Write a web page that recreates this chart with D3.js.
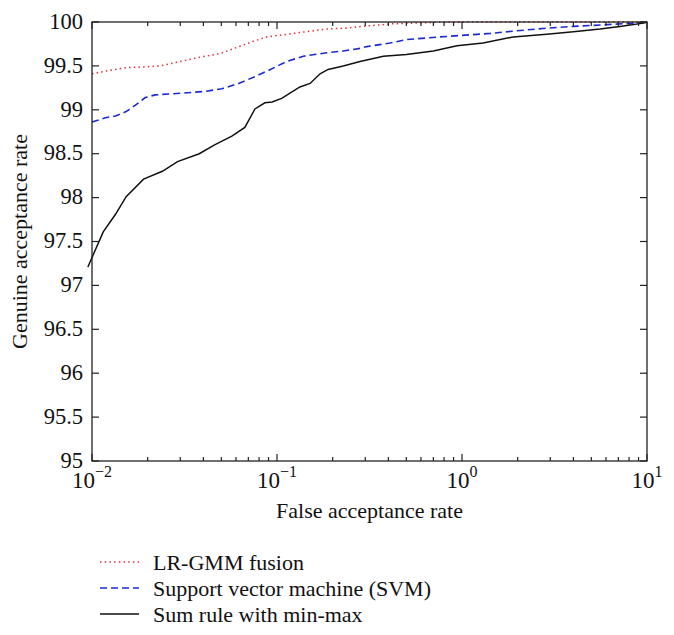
<!DOCTYPE html>
<html><head><meta charset="utf-8">
<script src="https://cdn.jsdelivr.net/npm/d3@7"></script>
<style>
html,body{margin:0;padding:0;background:#fff;}
text{font-family:"Liberation Serif","DejaVu Serif",serif;fill:#111;}
</style></head>
<body><svg id="chart" width="674" height="635"></svg>
<script>
// ---- data ----
const sumFar = [0.0095,0.0115,0.0134,0.0153,0.019,0.024,0.029,0.038,0.046,0.057,0.067,0.076,0.086,0.094,0.106,0.133,0.151,0.171,0.189,0.228,0.281,0.376,0.50,0.70,0.94,1.30,1.89,2.87,4.0,5.57,7.14,9.75,10];
const sumGar = [97.21,97.61,97.81,98.01,98.21,98.30,98.41,98.50,98.60,98.70,98.80,99.01,99.08,99.09,99.13,99.26,99.30,99.41,99.46,99.50,99.55,99.61,99.63,99.67,99.73,99.76,99.83,99.86,99.89,99.92,99.95,99.99,100];
const svmFar = [0.01,0.0118,0.0134,0.0153,0.0171,0.0194,0.022,0.0307,0.041,0.0504,0.0621,0.0763,0.0902,0.1128,0.1387,0.1856,0.228,0.281,0.3055,0.408,0.5025,0.76,1.42,1.98,2.87,4.0,6.06,9.17,10];
const svmGar = [98.86,98.91,98.93,98.98,99.05,99.14,99.17,99.19,99.21,99.24,99.30,99.38,99.45,99.55,99.61,99.65,99.67,99.70,99.72,99.76,99.80,99.83,99.87,99.90,99.93,99.95,99.97,99.99,100];
const lrFar = [0.01,0.0125,0.0154,0.0198,0.0233,0.0299,0.0384,0.0492,0.0606,0.0744,0.088,0.1128,0.1445,0.1856,0.2377,0.29,0.425,0.618,0.8,10];
const lrGar = [99.41,99.45,99.48,99.49,99.50,99.55,99.60,99.64,99.71,99.78,99.83,99.86,99.89,99.92,99.93,99.95,99.98,99.99,100,100];
const seriesNames = ["LR-GMM fusion","Support vector machine (SVM)","Sum rule with min-max"];
const xMajorExps = [-2,-1,0,1];
const yTickValues = [95,95.5,96,96.5,97,97.5,98,98.5,99,99.5,100];
const xTitle = "False acceptance rate";
const yTitle = "Genuine acceptance rate";

// ---- layout ----
const L = 92, R = 647, T = 22, B = 461;
const svg = d3.select("#chart");
const x = d3.scaleLog().domain([0.01,10]).range([L,R]);
const y = d3.scaleLinear().domain([95,100]).range([B,T]);
const axisColor = "#222";

// curves
const series = [
  {far: lrFar, gar: lrGar, color: "#e3303a", dash: "1.5,3.2", w: 1.5},
  {far: svmFar, gar: svmGar, color: "#1c2ad6", dash: "7,4", w: 1.6},
  {far: sumFar, gar: sumGar, color: "#111", dash: null, w: 1.5}
];
const line = d3.line().x(d => x(d[0])).y(d => y(d[1]));
series.forEach(s => {
  const pts = s.far.map((f,i) => [f, s.gar[i]]);
  svg.append("path").attr("d", line(pts)).attr("fill","none")
    .attr("stroke", s.color).attr("stroke-width", s.w)
    .attr("stroke-dasharray", s.dash);
});

// frame
svg.append("rect").attr("x",L).attr("y",T).attr("width",R-L).attr("height",B-T)
  .attr("fill","none").attr("stroke",axisColor).attr("stroke-width",1.3);

// ticks
const majLen = 7, minLen = 4;
const minorX = [];
for (let e = -2; e < 1; e++) for (let m = 2; m <= 9; m++) minorX.push(m*Math.pow(10,e));
const tg = svg.append("g").attr("stroke",axisColor).attr("stroke-width",1.2);
xMajorExps.forEach(e => {
  const px = x(Math.pow(10,e));
  tg.append("line").attr("x1",px).attr("x2",px).attr("y1",B).attr("y2",B-majLen);
  tg.append("line").attr("x1",px).attr("x2",px).attr("y1",T).attr("y2",T+majLen);
});
minorX.forEach(v => {
  const px = x(v);
  tg.append("line").attr("x1",px).attr("x2",px).attr("y1",B).attr("y2",B-minLen);
  tg.append("line").attr("x1",px).attr("x2",px).attr("y1",T).attr("y2",T+minLen);
});
yTickValues.forEach(v => {
  const py = y(v);
  tg.append("line").attr("x1",L).attr("x2",L+majLen).attr("y1",py).attr("y2",py);
  tg.append("line").attr("x1",R).attr("x2",R-majLen).attr("y1",py).attr("y2",py);
});

// y tick labels
yTickValues.forEach(v => {
  svg.append("text").attr("x",L-9).attr("y",y(v)).attr("dy","0.3em")
    .attr("text-anchor","end").attr("font-size",22.5).text(String(v));
});
// x tick labels
xMajorExps.forEach(e => {
  const t = svg.append("text").attr("x",x(Math.pow(10,e))).attr("y",B+27)
    .attr("text-anchor","middle").attr("font-size",23);
  t.append("tspan").text("10");
  t.append("tspan").attr("dy",-11).attr("font-size",16).text(e < 0 ? "\u2212" + Math.abs(e) : String(e));
});

// axis titles
svg.append("text").attr("x",(L+R)/2).attr("y",B+57).attr("text-anchor","middle")
  .attr("font-size",22).text(xTitle);
svg.append("text").attr("transform",`translate(27,${(T+B)/2}) rotate(-90)`)
  .attr("text-anchor","middle").attr("font-size",22).text(yTitle);

// legend
const legY0 = 562, legStep = 26;
series.forEach((s,i) => {
  const ly = legY0 + i*legStep;
  svg.append("line").attr("x1",100).attr("x2",139).attr("y1",ly).attr("y2",ly)
    .attr("stroke",s.color).attr("stroke-width",s.w).attr("stroke-dasharray",s.dash);
  svg.append("text").attr("x",153).attr("y",ly).attr("dy","0.35em")
    .attr("font-size",22).text(seriesNames[i]);
});
</script></body></html>
